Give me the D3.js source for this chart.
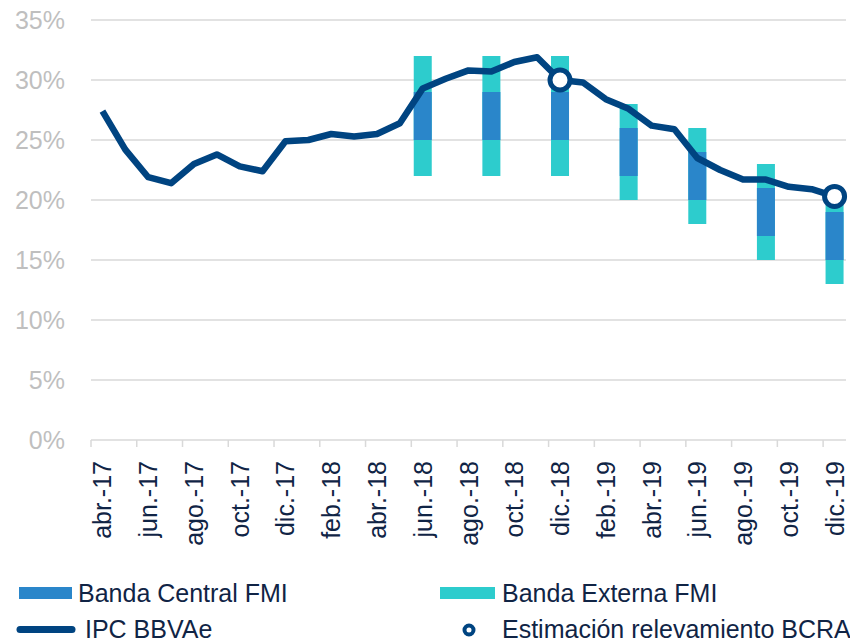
<!DOCTYPE html>
<html>
<head>
<meta charset="utf-8">
<script src="https://cdn.jsdelivr.net/npm/d3@7"></script>
<style>
  body { margin: 0; background: #fff; }
  svg { display: block; font-family: "Liberation Sans", Arial, sans-serif; }
</style>
</head>
<body>
<svg id="chart" width="850" height="644"></svg>
<script>
// months on the category axis
const months = [
  "abr.-17", "may.-17", "jun.-17", "jul.-17", "ago.-17", "sep.-17", "oct.-17", "nov.-17", "dic.-17",
  "ene.-18", "feb.-18", "mar.-18", "abr.-18", "may.-18", "jun.-18", "jul.-18", "ago.-18", "sep.-18",
  "oct.-18", "nov.-18", "dic.-18", "ene.-19", "feb.-19", "mar.-19", "abr.-19", "may.-19", "jun.-19",
  "jul.-19", "ago.-19", "sep.-19", "oct.-19", "nov.-19", "dic.-19"
];

// IPC BBVAe (% a/a)
const ipc = [
  27.4, 24.2, 21.9, 21.4, 23.0, 23.8, 22.8, 22.4, 24.9,
  25.0, 25.5, 25.3, 25.5, 26.4, 29.3, 30.1, 30.8, 30.7,
  31.5, 31.9, 30.0, 29.8, 28.4, 27.6, 26.2, 25.9, 23.5,
  22.5, 21.7, 21.7, 21.1, 20.9, 20.3
];

// bandas FMI (trimestrales)
const bandMonths = ["jun.-18", "sep.-18", "dic.-18", "mar.-19", "jun.-19", "sep.-19", "dic.-19"];
const outerLow = [22, 22, 22, 20, 18, 15, 13];
const centralLow = [25, 25, 25, 22, 20, 17, 15];
const centralHigh = [29, 29, 29, 26, 24, 21, 19];
const outerHigh = [32, 32, 32, 28, 26, 23, 19.6];

// estimacion relevamiento BCRA
const bcraMonths = ["dic.-18", "dic.-19"];
const bcraValues = [30.0, 20.3];

const yTicks = [0, 5, 10, 15, 20, 25, 30, 35];

const navy = "#004481";
const central = "#2A86CA";
const externa = "#2DCCCD";
const textColor = "#102445";
const gridColor = "#d9d9d9";

const svg = d3.select("#chart");
const margin = { top: 20, right: 4, bottom: 204, left: 91 };
const width = 850;
const height = 644;

const x = d3.scaleBand()
  .domain(months)
  .range([margin.left, width - margin.right])
  .padding(0);

const y = d3.scaleLinear()
  .domain([0, 35])
  .range([height - margin.bottom, margin.top]);

const cx = (m) => x(m) + x.bandwidth() / 2;

// grid
svg.append("g")
  .attr("id", "gridGroup")
  .selectAll("line")
  .data(yTicks.filter((d) => d > 0))
  .join("line")
  .attr("x1", margin.left)
  .attr("x2", width - margin.right)
  .attr("y1", (d) => y(d))
  .attr("y2", (d) => y(d))
  .attr("stroke", gridColor)
  .attr("stroke-width", 1.5);

// y labels
svg.append("g")
  .attr("id", "yAxisGroup")
  .selectAll("text")
  .data(yTicks)
  .join("text")
  .attr("x", 65)
  .attr("y", (d) => y(d))
  .attr("dy", "0.35em")
  .attr("text-anchor", "end")
  .attr("fill", "#bfbfbf")
  .attr("font-size", 25)
  .text((d) => d + "%");

// x axis
const xAxisGroup = svg.append("g").attr("id", "xAxisGroup");

xAxisGroup.append("line")
  .attr("x1", margin.left)
  .attr("x2", width - margin.right)
  .attr("y1", y(0))
  .attr("y2", y(0))
  .attr("stroke", gridColor)
  .attr("stroke-width", 1.5);

const labelMonths = months.filter((_, i) => i % 2 === 0);

xAxisGroup.selectAll(".tick")
  .data(labelMonths)
  .join("line")
  .attr("class", "tick")
  .attr("x1", (d) => x(d))
  .attr("x2", (d) => x(d))
  .attr("y1", y(0))
  .attr("y2", y(0) + 7)
  .attr("stroke", gridColor)
  .attr("stroke-width", 1.5);

xAxisGroup.selectAll(".label")
  .data(labelMonths)
  .join("text")
  .attr("class", "label")
  .attr("transform", (d) => `translate(${cx(d)},${y(0) + 21}) rotate(-90)`)
  .attr("dy", "0.36em")
  .attr("text-anchor", "end")
  .attr("fill", textColor)
  .attr("font-size", 25)
  .text((d) => d);

// bands
const barW = 18;
const bands = bandMonths.map((m, i) => ({
  m,
  oLo: outerLow[i],
  oHi: outerHigh[i],
  cLo: centralLow[i],
  cHi: centralHigh[i]
}));

const bandGroup = svg.append("g").attr("id", "bandGroup");

bandGroup.selectAll(".outer")
  .data(bands)
  .join("rect")
  .attr("class", "outer")
  .attr("x", (d) => cx(d.m) - barW / 2)
  .attr("width", barW)
  .attr("y", (d) => y(d.oHi))
  .attr("height", (d) => y(d.oLo) - y(d.oHi))
  .attr("fill", externa);

bandGroup.selectAll(".central")
  .data(bands)
  .join("rect")
  .attr("class", "central")
  .attr("x", (d) => cx(d.m) - barW / 2)
  .attr("width", barW)
  .attr("y", (d) => y(d.cHi))
  .attr("height", (d) => y(d.cLo) - y(d.cHi))
  .attr("fill", central);

// IPC line
const line = d3.line()
  .x((d, i) => cx(months[i]))
  .y((d) => y(d));

svg.append("path")
  .datum(ipc)
  .attr("d", line)
  .attr("fill", "none")
  .attr("stroke", navy)
  .attr("stroke-width", 6.5)
  .attr("stroke-linejoin", "round");

// BCRA points
svg.append("g")
  .attr("id", "bcraGroup")
  .selectAll("circle")
  .data(bcraMonths)
  .join("circle")
  .attr("cx", (d) => cx(d))
  .attr("cy", (d, i) => y(bcraValues[i]))
  .attr("r", 10)
  .attr("fill", "#fff")
  .attr("stroke", navy)
  .attr("stroke-width", 5);

// legend
const legend = svg.append("g").attr("id", "legendGroup").attr("fill", textColor).attr("font-size", 25);

legend.append("rect").attr("x", 19).attr("y", 587).attr("width", 53).attr("height", 12).attr("fill", central);
legend.append("text").attr("x", 78).attr("y", 602).text("Banda Central FMI");

legend.append("rect").attr("x", 440).attr("y", 587).attr("width", 55).attr("height", 12).attr("fill", externa);
legend.append("text").attr("x", 502).attr("y", 602).text("Banda Externa FMI");

legend.append("line")
  .attr("x1", 20).attr("x2", 72).attr("y1", 629.5).attr("y2", 629.5)
  .attr("stroke", navy).attr("stroke-width", 7).attr("stroke-linecap", "round");
legend.append("text").attr("x", 85).attr("y", 638).text("IPC BBVAe");

legend.append("circle")
  .attr("cx", 469).attr("cy", 630).attr("r", 4.5)
  .attr("fill", "#fff").attr("stroke", navy).attr("stroke-width", 4);
legend.append("text").attr("x", 502).attr("y", 638).text("Estimación relevamiento BCRA");
</script>
</body>
</html>
